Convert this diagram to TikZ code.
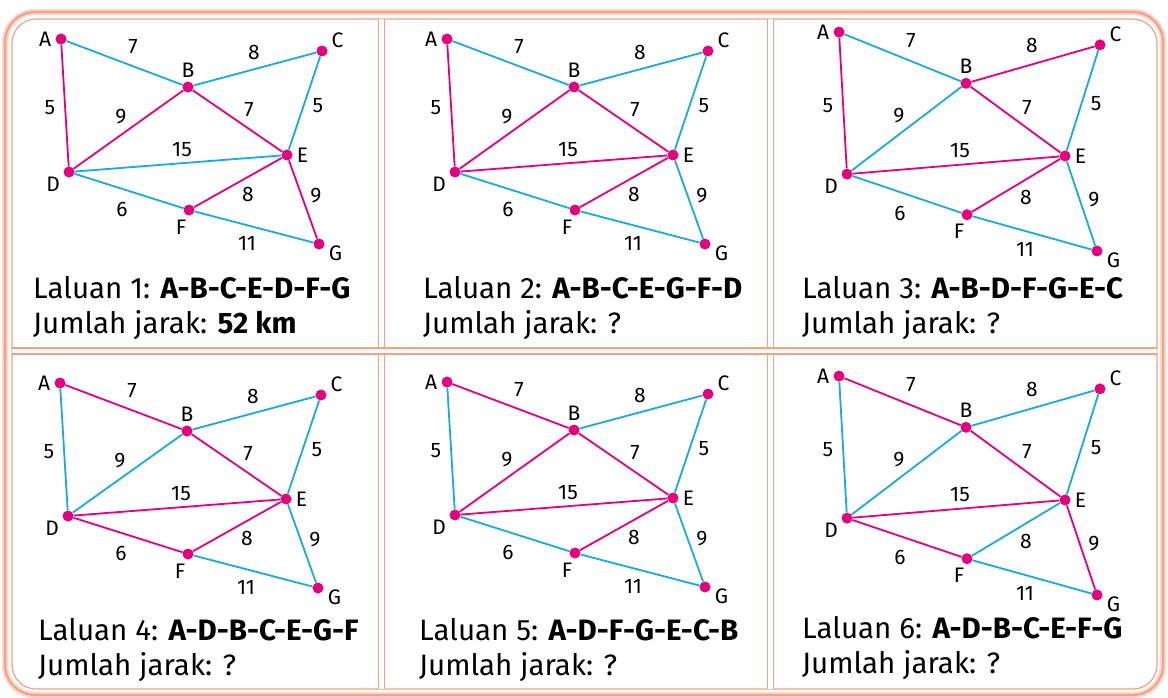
\documentclass[tikz,border=0pt]{standalone}
\usepackage{fontspec}
\setmainfont{Fira Sans}
\usetikzlibrary{positioning}
\definecolor{Jalan}{HTML}{E5007E}
\definecolor{Biru}{HTML}{1BA9E1}
\definecolor{Bingkai}{HTML}{F4A085}

\tikzset{
  titik/.style={circle,fill=Jalan,inner sep=0pt,minimum size=11pt},
  nama/.style={font=\fontsize{21}{23}\selectfont,inner sep=1pt,label distance=3pt},
  berat/.style={font=\fontsize{21}{23}\selectfont,inner sep=0pt},
  biasa/.style={draw=Biru,line width=1.8pt},
  laluan/.style={draw=Jalan,line width=1.8pt},
  teks/.style={anchor=base west,font=\fontsize{29.5}{32}\selectfont,inner sep=0pt},
  garis/.style={draw=Bingkai,line width=1.5pt,double=white,double distance=4.5pt},
}

% #1 panel, #2 scope options, #3 text position, #4 route, #5 total, #6 edges
\newcommand{\graf}[6]{%
  \begin{scope}[#2]
    \foreach \n/\x/\y/\s in {A/61/39/180,B/188/87/90,C/322/51/15,D/69/172/205,E/287/155/0,F/189/210/-100,G/319/244/-5}
      \node[titik,label={[nama]\s:\n}] (\n#1) at (\x,\y) {};
    \foreach \u/\v/\c in {#6}
      \draw[\c] (\u#1) -- (\v#1);
    \foreach \w/\x/\y [count=\i] in {7/133/47,8/254/52,5/50/108,9/121/117,7/249/110,5/318/106,15/182/150,8/248/194,9/316/196,6/122/209,11/247/243}
      \node[berat] (w#1-\i) at (\x,\y) {\w};
  \end{scope}
  \node[teks] (t#1) at #3 {Laluan #1: \textbf{#4}};
  \node[teks] (j#1) at ([yshift=-35pt]t#1.base west) {Jumlah jarak: #5};
}

\begin{document}
\begin{tikzpicture}[x=1pt,y=-1pt]
  \useasboundingbox[fill=white] (0,0) rectangle (1168,698);

  % frame
  \draw[Bingkai!45,line width=6pt,rounded corners=30pt] (5,12) rectangle (1163,695);
  \draw[Bingkai,line width=2pt,rounded corners=30pt] (5,12) rectangle (1163,695);
  \draw[Bingkai,line width=1.2pt,rounded corners=24pt] (12,19) rectangle (1157,689);
  \draw[garis] (381.5,19) -- (381.5,689);
  \draw[garis] (770.5,19) -- (770.5,689);
  \draw[garis] (12,351) -- (1157,351);

  \graf{1}{shift={(0,0)}}{(33,298)}{A-B-C-E-D-F-G}{\textbf{52 km}}
    {A/B/biasa,B/C/biasa,C/E/biasa,A/D/laluan,B/D/laluan,B/E/laluan,D/E/biasa,D/F/biasa,F/E/laluan,E/G/laluan,F/G/biasa}
  \graf{2}{shift={(386,0)}}{(423,298)}{A-B-C-E-G-F-D}{?}
    {A/B/biasa,B/C/biasa,C/E/biasa,A/D/laluan,B/D/laluan,B/E/laluan,D/E/laluan,D/F/biasa,F/E/laluan,E/G/biasa,F/G/biasa}
  \graf{3}{shift={(778,-9.6)},yscale=1.068}{(802,298)}{A-B-D-F-G-E-C}{?}
    {A/B/biasa,B/C/laluan,C/E/biasa,A/D/laluan,B/D/biasa,B/E/laluan,D/E/laluan,D/F/biasa,F/E/laluan,E/G/biasa,F/G/biasa}
  \graf{4}{shift={(-1,344)}}{(38,640)}{A-D-B-C-E-G-F}{?}
    {A/B/laluan,B/C/biasa,C/E/biasa,A/D/biasa,B/D/biasa,B/E/laluan,D/E/laluan,D/F/laluan,F/E/laluan,E/G/biasa,F/G/biasa}
  \graf{5}{shift={(386,343)}}{(419,640)}{A-D-F-G-E-C-B}{?}
    {A/B/laluan,B/C/biasa,C/E/biasa,A/D/biasa,B/D/laluan,B/E/laluan,D/E/laluan,D/F/biasa,F/E/laluan,E/G/biasa,F/G/biasa}
  \graf{6}{shift={(778,334.4)},yscale=1.068}{(802,638)}{A-D-B-C-E-F-G}{?}
    {A/B/laluan,B/C/biasa,C/E/biasa,A/D/biasa,B/D/biasa,B/E/laluan,D/E/laluan,D/F/laluan,F/E/biasa,E/G/laluan,F/G/biasa}
\end{tikzpicture}
\end{document}
